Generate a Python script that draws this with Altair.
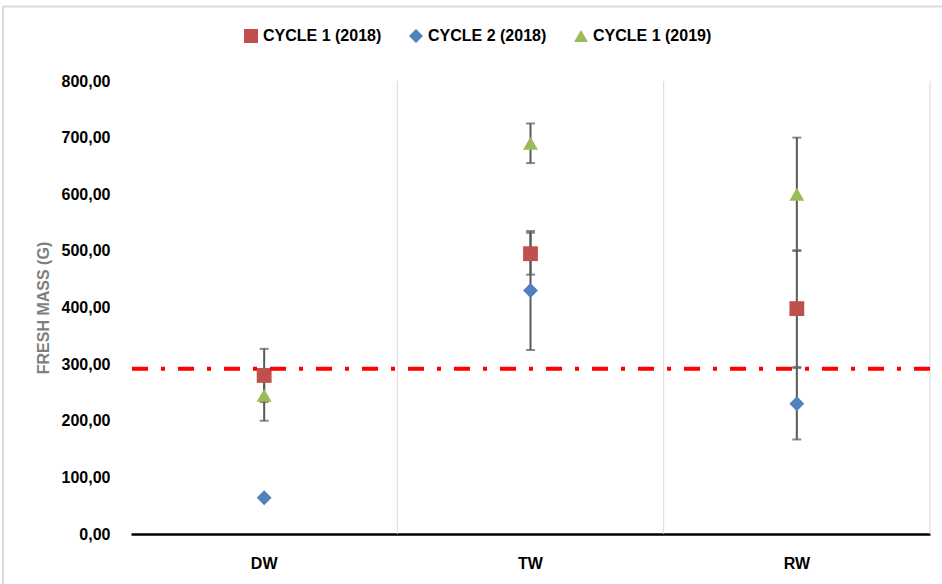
import altair as alt
import pandas as pd

categories = ["DW", "TW", "RW"]
series = ["CYCLE 1 (2018)", "CYCLE 2 (2018)", "CYCLE 1 (2019)"]
cycle1_2018 = [280, 495, 398]
cycle2_2018 = [64, 430, 230]
cycle1_2019 = [245, 690, 600]
cycle1_2018_err = [47, 37, 103]
cycle2_2018_err = [0, 105, 63]
cycle1_2019_err = [45, 35, 100]
reference_line = 292
grid_start_categories = ["TW", "RW"]
grid_end_categories = ["RW"]

colors = ["#C0504D", "#4F81BD", "#9BBB59"]
shapes = ["square", "diamond", "triangle-up"]
FONT = "Liberation Sans"

rows = []
for s, vals, errs in [
    (series[0], cycle1_2018, cycle1_2018_err),
    (series[1], cycle2_2018, cycle2_2018_err),
    (series[2], cycle1_2019, cycle1_2019_err),
]:
    for c, v, e in zip(categories, vals, errs):
        rows.append({"cat": c, "series": s, "value": v, "lo": v - e, "hi": v + e})
df = pd.DataFrame(rows)

xscale = alt.Scale(domain=categories, paddingInner=0, paddingOuter=0)
yscale = alt.Scale(domain=[0, 800], nice=False)

x_axis = alt.Axis(
    grid=False, ticks=False, domain=True, domainColor="#000000", domainWidth=2.5,
    labelFont=FONT, labelFontSize=16, labelFontWeight="bold", labelColor="#000000",
    labelPadding=21, labelAngle=0, title=None,
)
y_axis = alt.Axis(
    values=[0, 100, 200, 300, 400, 500, 600, 700, 800],
    labelExpr="replace(format(datum.value, '.2f'), '.', ',')",
    grid=False, ticks=False, domain=False,
    labelFont=FONT, labelFontSize=16, labelFontWeight="bold", labelColor="#000000",
    labelPadding=21,
    titleFont=FONT, titleFontSize=16, titleFontWeight="bold", titleColor="#7F7F7F",
    titlePadding=10,
)


def xe(**kw):
    return alt.X("cat:N", sort=categories, scale=xscale, axis=x_axis, title=None, **kw)


def ye(field):
    return alt.Y(field, scale=yscale, axis=y_axis, title="FRESH MASS (G)")


base = alt.Chart(df)

grid_start = alt.Chart(pd.DataFrame({"cat": grid_start_categories})).mark_rule(
    color="#D9D9D9", strokeWidth=1
).encode(x=xe(bandPosition=0))
grid_end = alt.Chart(pd.DataFrame({"cat": grid_end_categories})).mark_rule(
    color="#D9D9D9", strokeWidth=1
).encode(x=xe(bandPosition=1))

err_rule = base.mark_rule(color="#595959", strokeWidth=2).encode(
    x=xe(), y=ye("lo:Q"), y2="hi:Q"
)
cap_lo = base.mark_tick(color="#595959", thickness=2, size=9).encode(x=xe(), y=ye("lo:Q"))
cap_hi = base.mark_tick(color="#595959", thickness=2, size=9).encode(x=xe(), y=ye("hi:Q"))

points = base.mark_point(filled=True, opacity=1, size=220).encode(
    x=xe(),
    y=ye("value:Q"),
    color=alt.Color(
        "series:N", scale=alt.Scale(domain=series, range=colors),
        legend=alt.Legend(
            orient="none", legendX=112, legendY=-53, direction="horizontal", title=None,
            labelFont=FONT, labelFontSize=16, labelFontWeight="bold", labelColor="#000000",
            symbolSize=196, columnPadding=26, symbolStrokeWidth=0, labelOffset=4,
        ),
    ),
    shape=alt.Shape("series:N", scale=alt.Scale(domain=series, range=shapes)),
)

red_line = alt.Chart(pd.DataFrame({"y": [reference_line]})).mark_rule(
    color="#FF0000", strokeWidth=4, strokeDash=[16, 13, 4, 13]
).encode(y=ye("y:Q"))

# outer chart border (decoration, like the spreadsheet chart frame)
frame_top = alt.Chart(pd.DataFrame({"y": [0]})).mark_rule(
    color="#D9D9D9", strokeWidth=2, clip=False
).encode(x=alt.value(-128), x2=alt.value(830), y=alt.value(-74.5))
frame_left = alt.Chart(pd.DataFrame({"y": [0]})).mark_rule(
    color="#D9D9D9", strokeWidth=2, clip=False
).encode(x=alt.value(-128), y=alt.value(-74.5), y2=alt.value(520))

chart = alt.layer(
    frame_top, frame_left, grid_start, grid_end, err_rule, cap_lo, cap_hi, points, red_line
).properties(
    width=799, height=453,
    autosize=alt.AutoSizeParams(type="none"),
    padding={"left": 131, "top": 81, "right": 12, "bottom": 50},
    background="#FFFFFF",
).configure_view(stroke=None)

chart.save("out.html", embed_options={"renderer": "svg", "actions": False})
